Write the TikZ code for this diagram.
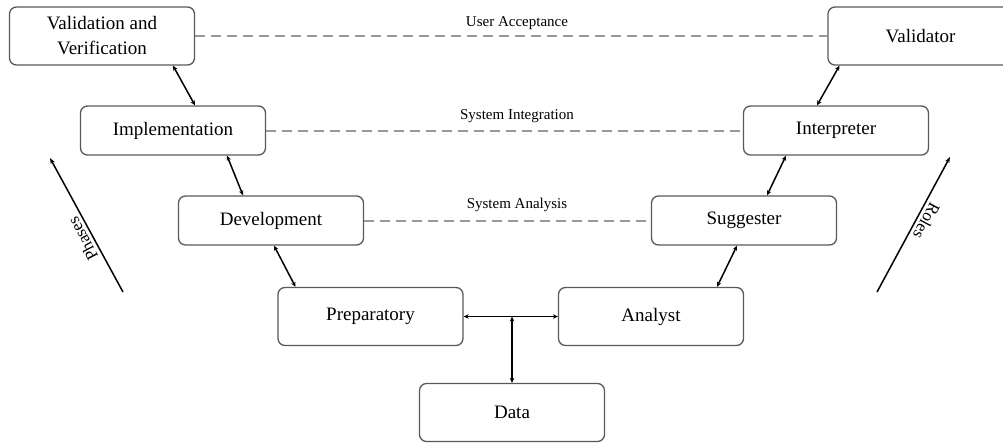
\documentclass[tikz,border=0pt]{standalone}
\usepackage{fontspec}
\setmainfont{Liberation Serif}
\usetikzlibrary{arrows.meta}

\begin{document}
\begin{tikzpicture}[x=1pt,y=-1pt,
  stage/.style={draw=black!65, line width=1.3pt, rounded corners=7pt, minimum width=185pt, minimum height=49pt, inner sep=0pt, align=center, font=\fontsize{19}{25}\selectfont},
  tall/.style={minimum height=58pt},
  level/.style={draw=black!40, line width=2pt, dash pattern=on 10pt off 6pt},
  tag/.style={font=\fontsize{15}{18}\selectfont},
  duo/.style={{Stealth[length=5pt,width=4.5pt]}-{Stealth[length=5pt,width=4.5pt]}, line width=1.5pt},
  trend/.style={-{Stealth[length=6pt,width=4.5pt]}, line width=1.5pt}]
  \useasboundingbox (0,0) rectangle (1003,445);
  \node[stage, tall] (valid) at (102,36) {Validation and\\Verification};
  \node[stage] (impl) at (173,130.5) {Implementation};
  \node[stage] (dev) at (271,220.5) {Development};
  \node[stage, tall] (prep) at (370.5,316.5) {Preparatory};
  \node[stage, tall] (data) at (512,412.5) {Data};
  \node[stage, tall] (analyst) at (651,316.5) {Analyst};
  \node[stage] (sugg) at (744,220.5) {Suggester};
  \node[stage] (interp) at (836,130.5) {Interpreter};
  \node[stage, tall] (validator) at (920.5,36) {Validator};

  \draw[level] (valid.east) -- (validator.west);
  \draw[level] (impl.east) -- (interp.west);
  \draw[level] (dev.east) -- (sugg.west);
  \node[tag] (ua) at (517,23) {User Acceptance};
  \node[tag] (si) at (517,116) {System Integration};
  \node[tag] (sa) at (517,205) {System Analysis};

  \draw[duo] ([xshift=71pt]valid.south) -- ([xshift=22pt]impl.north);
  \draw[duo] ([xshift=54pt]impl.south) -- ([xshift=-28pt]dev.north);
  \draw[duo] ([xshift=3pt]dev.south) -- ([xshift=-75pt]prep.north);
  \draw[duo] ([xshift=-81pt]validator.south) -- ([xshift=-19pt]interp.north);
  \draw[duo] ([xshift=-50pt]interp.south) -- ([xshift=23pt]sugg.north);
  \draw[duo] ([xshift=-7pt]sugg.south) -- ([xshift=66pt]analyst.north);

  \coordinate (hub) at (data.north |- prep.east);
  \draw[duo] (prep.east) -- (analyst.west);
  \draw[duo] (hub) -- (data.north);

  \coordinate (ph0) at (123,292);
  \coordinate (ph1) at (50,158);
  \coordinate (ro0) at (877,292);
  \coordinate (ro1) at (950,157);
  \draw[trend] (ph0) -- (ph1) node[pos=0.43, rotate=118, anchor=south, font=\fontsize{17}{20}\selectfont] (phases) {Phases};
  \draw[trend] (ro0) -- (ro1) node[pos=0.56, rotate=-118, anchor=south, font=\fontsize{17}{20}\selectfont] (roles) {Roles};
\end{tikzpicture}
\end{document}
